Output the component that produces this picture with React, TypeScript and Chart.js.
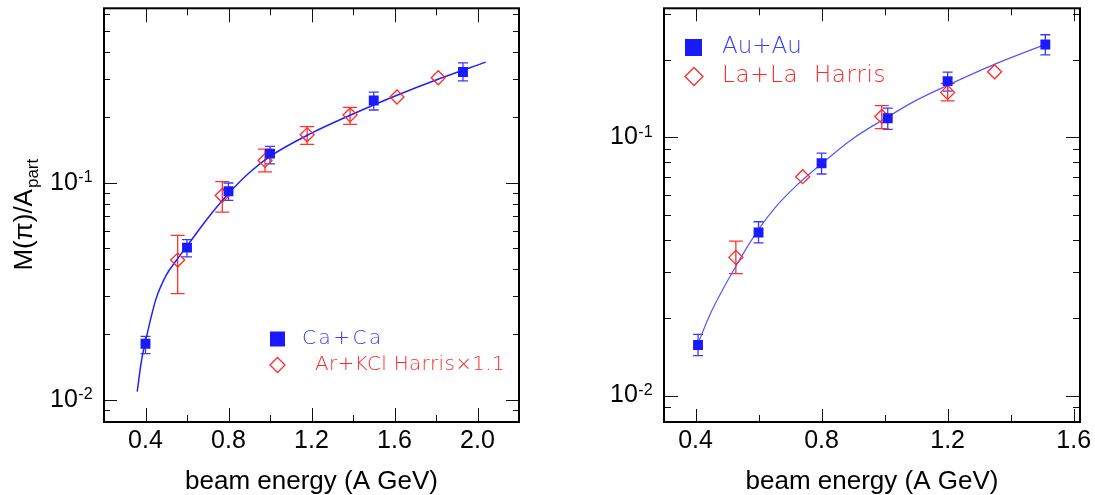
import React, { useEffect, useRef } from "react";
import { Chart, registerables } from "chart.js";

Chart.register(...registerables);

// ===== Left panel: Ca+Ca (squares) and Ar+KCl Harris x1.1 (diamonds) =====
const caCaX = [0.4, 0.6, 0.8, 1.0, 1.5, 1.93];
const caCaY = [0.0181, 0.0502, 0.0912, 0.136, 0.239, 0.323];
const caCaLow = [0.0163, 0.0455, 0.0828, 0.122, 0.216, 0.294];
const caCaHigh = [0.0196, 0.0546, 0.0996, 0.147, 0.261, 0.356];

const arKclX = [0.555, 0.77, 0.976, 1.179, 1.386, 1.612, 1.811];
const arKclY = [0.044, 0.0872, 0.1265, 0.166, 0.205, 0.248, 0.304];
const arKclLow = [0.0308, 0.0731, 0.112, 0.15, 0.1855, null, null];
const arKclHigh = [0.0572, 0.101, 0.1425, 0.181, 0.222, null, null];

const leftFitX = [0.36, 0.38, 0.4, 0.45, 0.5, 0.55, 0.6, 0.7, 0.8, 0.9, 1.0, 1.2, 1.4, 1.6, 1.8, 2.04];
const leftFitY = [0.0109, 0.015, 0.0186, 0.029, 0.0375, 0.044, 0.051, 0.0685, 0.089, 0.111, 0.132, 0.169, 0.207, 0.25, 0.297, 0.359];

// ===== Right panel: Au+Au (squares) and La+La Harris (diamonds) =====
const auAuX = [0.408, 0.6, 0.8, 1.01, 1.2, 1.51];
const auAuY = [0.0157, 0.0428, 0.0794, 0.1186, 0.165, 0.2287];
const auAuLow = [0.01429, 0.039, 0.0721, 0.1074, 0.151, 0.2086];
const auAuHigh = [0.01726, 0.0471, 0.0868, 0.1297, 0.179, 0.2496];

const laLaX = [0.528, 0.74, 0.991, 1.2, 1.349];
const laLaY = [0.0343, 0.0704, 0.1205, 0.1493, 0.1794];
const laLaLow = [0.02965, null, 0.108, 0.1383, null];
const laLaHigh = [0.0396, null, 0.1327, 0.1618, null];

const rightFitX = [0.412, 0.45, 0.53, 0.6, 0.65, 0.72, 0.8, 0.9, 1.0, 1.1, 1.2, 1.35, 1.51];
const rightFitY = [0.0164, 0.0211, 0.032, 0.044, 0.053, 0.065, 0.079, 0.099, 0.118, 0.139, 0.159, 0.192, 0.229];

// ===== Axes / labels =====
const leftXTicks = [0.4, 0.8, 1.2, 1.6, 2.0];
const leftXMinorTicks = [0.2, 0.6, 1.0, 1.4, 1.8, 2.2];
const rightXTicks = [0.4, 0.8, 1.2, 1.6];
const rightXMinorTicks = [0.6, 1.0, 1.4];
const yDecadeTicks = [0.01, 0.1];
const yDecadeExponents = ["-2", "-1"];
const yTickDecades = [0.001, 0.01, 0.1];
const yTickMantissas = [1, 2, 3, 4, 5, 6, 7, 8, 9];
const xTitle = "beam energy (A GeV)";
const yTitleMain = "M(\u03c0)/A";
const yTitleSub = "part";
const leftLegendLabels = ["Ca+Ca", "Ar+KCl Harris\u00d71.1"];
const rightLegendLabels = ["Au+Au", "La+La  Harris"];

const BLUE = "#1a1aff";
const RED = "#ff2a2a";
const SANS = '"Liberation Sans", Arial, Helvetica, sans-serif';
const LEG_FONT = '"DejaVu Sans", sans-serif';

type LegendItem = { kind: "square" | "diamond"; cx: number; cy: number; size: number; text: string; tx: number; fontSize: number; color: string; spacing: number };

type PanelCfg = {
  left: number;
  width: number;
  yAxisWidth: number;
  rightPad: number;
  xMin: number;
  xMax: number;
  yMin: number;
  yMax: number;
  xTicks: number[];
  xMinor: number[];
  sqX: number[]; sqY: number[]; sqLow: (number | null)[]; sqHigh: (number | null)[];
  dmX: number[]; dmY: number[]; dmLow: (number | null)[]; dmHigh: (number | null)[];
  fitX: number[]; fitY: number[];
  fitColor: string;
  fitWidth: number;
  yLabelX: number;
  showYTitle: boolean;
  legend: LegendItem[];
  xMajorLen: number; xMinorLen: number; yMajorLen: number; yMinorLen: number;
};

function makeDecor(cfg: PanelCfg) {
  return {
    id: "decor",
    beforeDatasetsDraw(chart: any) {
      const ctx = chart.ctx as CanvasRenderingContext2D;
      const xs = chart.scales.x;
      const ys = chart.scales.y;
      const bars = [
        { x: cfg.sqX, lo: cfg.sqLow, hi: cfg.sqHigh, color: "#3a3aff", cap: 5 },
        { x: cfg.dmX, lo: cfg.dmLow, hi: cfg.dmHigh, color: "#ff3030", cap: 7 },
      ];
      ctx.save();
      ctx.lineWidth = 1.3;
      for (const b of bars) {
        ctx.strokeStyle = b.color;
        b.x.forEach((xv, i) => {
          const lo = b.lo[i];
          const hi = b.hi[i];
          if (lo == null || hi == null) return;
          const px = xs.getPixelForValue(xv);
          const pl = ys.getPixelForValue(lo);
          const ph = ys.getPixelForValue(hi);
          ctx.beginPath();
          ctx.moveTo(px, pl);
          ctx.lineTo(px, ph);
          ctx.moveTo(px - b.cap, pl);
          ctx.lineTo(px + b.cap, pl);
          ctx.moveTo(px - b.cap, ph);
          ctx.lineTo(px + b.cap, ph);
          ctx.stroke();
        });
      }
      ctx.restore();
    },
    afterDraw(chart: any) {
      const ctx = chart.ctx as CanvasRenderingContext2D;
      const xs = chart.scales.x;
      const ys = chart.scales.y;
      const { left, right, top, bottom } = chart.chartArea;
      ctx.save();
      ctx.strokeStyle = "#111";
      ctx.lineWidth = 1;
      const line = (x1: number, y1: number, x2: number, y2: number) => {
        ctx.beginPath();
        ctx.moveTo(x1, y1);
        ctx.lineTo(x2, y2);
        ctx.stroke();
      };
      // x ticks (inside, bottom and top)
      const xt = (v: number, len: number) => {
        const px = Math.round(xs.getPixelForValue(v)) + 0.5;
        if (px < left - 1 || px > right + 1) return;
        line(px, bottom, px, bottom - len);
        line(px, top, px, top + len);
      };
      cfg.xTicks.forEach((v) => xt(v, cfg.xMajorLen));
      cfg.xMinor.forEach((v) => xt(v, cfg.xMinorLen));
      // y ticks (inside, left and right)
      for (const d of yTickDecades) {
        for (const m of yTickMantissas) {
          const v = m * d;
          if (v < cfg.yMin || v > cfg.yMax) continue;
          const len = m === 1 ? cfg.yMajorLen : cfg.yMinorLen;
          const py = Math.round(ys.getPixelForValue(v)) + 0.5;
          line(left, py, left + len, py);
          line(right, py, right - len, py);
        }
      }
      // frame
      ctx.lineWidth = 2;
      ctx.strokeStyle = "#000";
      ctx.strokeRect(left, top, right - left, bottom - top);

      // y decade labels with superscripts
      ctx.fillStyle = "#000";
      yDecadeTicks.forEach((d, i) => {
        const py = ys.getPixelForValue(d);
        ctx.font = `25px ${SANS}`;
        ctx.textAlign = "left";
        ctx.textBaseline = "middle";
        ctx.fillText("10", cfg.yLabelX, py);
        const w = ctx.measureText("10").width;
        ctx.font = `16px ${SANS}`;
        ctx.textBaseline = "top";
        ctx.fillText(yDecadeExponents[i], cfg.yLabelX + w + 0.5, py - 13);
      });

      // y title with subscript
      if (cfg.showYTitle) {
        ctx.save();
        ctx.translate(32, (top + bottom) / 2);
        ctx.rotate(-Math.PI / 2);
        const mainF = `26px ${SANS}`;
        const subF = `17px ${SANS}`;
        ctx.font = mainF;
        const w1 = ctx.measureText(yTitleMain).width;
        ctx.font = subF;
        const w2 = ctx.measureText(yTitleSub).width;
        const start = -(w1 + w2) / 2;
        ctx.textAlign = "left";
        ctx.textBaseline = "alphabetic";
        ctx.font = mainF;
        ctx.fillText(yTitleMain, start, 0);
        ctx.font = subF;
        ctx.fillText(yTitleSub, start + w1 + 1, 6);
        ctx.restore();
      }

      // legend
      for (const it of cfg.legend) {
        if (it.kind === "square") {
          ctx.fillStyle = BLUE;
          ctx.fillRect(it.cx - it.size / 2, it.cy - it.size / 2, it.size, it.size);
        } else {
          ctx.strokeStyle = RED;
          ctx.lineWidth = 1.3;
          const h = it.size / 2;
          ctx.beginPath();
          ctx.moveTo(it.cx - h, it.cy);
          ctx.lineTo(it.cx, it.cy - h);
          ctx.lineTo(it.cx + h, it.cy);
          ctx.lineTo(it.cx, it.cy + h);
          ctx.closePath();
          ctx.stroke();
        }
        ctx.fillStyle = it.color;
        ctx.font = `200 ${it.fontSize}px ${LEG_FONT}`;
        (ctx as any).letterSpacing = `${it.spacing}px`;
        ctx.textAlign = "left";
        ctx.textBaseline = "middle";
        ctx.fillText(it.text, it.tx, it.cy);
        (ctx as any).letterSpacing = "0px";
      }
      ctx.restore();
    },
  };
}

const leftCfg: PanelCfg = {
  left: 0,
  width: 547,
  yAxisWidth: 104,
  rightPad: 28,
  xMin: 0.2,
  xMax: 2.2,
  yMin: 0.0079,
  yMax: 0.635,
  xTicks: leftXTicks,
  xMinor: leftXMinorTicks,
  sqX: caCaX, sqY: caCaY, sqLow: caCaLow, sqHigh: caCaHigh,
  dmX: arKclX, dmY: arKclY, dmLow: arKclLow, dmHigh: arKclHigh,
  fitX: leftFitX, fitY: leftFitY,
  fitColor: "#2020ff",
  fitWidth: 1.5,
  yLabelX: 50,
  showYTitle: true,
  legend: [
    { kind: "square", cx: 277.5, cy: 339, size: 15, text: leftLegendLabels[0], tx: 302, fontSize: 20, color: "#3c3cff", spacing: 2.5 },
    { kind: "diamond", cx: 277.5, cy: 365, size: 15, text: leftLegendLabels[1], tx: 315, fontSize: 20, color: RED, spacing: 0.3 },
  ],
  xMajorLen: 14, xMinorLen: 7, yMajorLen: 13, yMinorLen: 6,
};

const rightCfg: PanelCfg = {
  left: 547,
  width: 548,
  yAxisWidth: 117,
  rightPad: 15,
  xMin: 0.3,
  xMax: 1.62,
  yMin: 0.0079,
  yMax: 0.316,
  xTicks: rightXTicks,
  xMinor: rightXMinorTicks,
  sqX: auAuX, sqY: auAuY, sqLow: auAuLow, sqHigh: auAuHigh,
  dmX: laLaX, dmY: laLaY, dmLow: laLaLow, dmHigh: laLaHigh,
  fitX: rightFitX, fitY: rightFitY,
  fitColor: "#5555ff",
  fitWidth: 1.2,
  yLabelX: 63,
  showYTitle: false,
  legend: [
    { kind: "square", cx: 146.5, cy: 47.5, size: 17, text: rightLegendLabels[0], tx: 175, fontSize: 23, color: "#3c3cff", spacing: 0 },
    { kind: "diamond", cx: 147, cy: 76.5, size: 18, text: rightLegendLabels[1], tx: 175, fontSize: 23, color: RED, spacing: 0.6 },
  ],
  xMajorLen: 13, xMinorLen: 7, yMajorLen: 14, yMinorLen: 7,
};

function Panel({ cfg }: { cfg: PanelCfg }) {
  const ref = useRef<HTMLCanvasElement>(null);
  useEffect(() => {
    const canvas = ref.current;
    if (!canvas) return;
    const chart = new Chart(canvas, {
      type: "scatter",
      data: {
        datasets: [
          {
            label: "squares",
            data: cfg.sqX.map((x, i) => ({ x, y: cfg.sqY[i] })),
            pointStyle: "rect",
            pointRadius: 7,
            backgroundColor: BLUE,
            borderWidth: 0,
            borderColor: BLUE,
          } as any,
          {
            label: "diamonds",
            data: cfg.dmX.map((x, i) => ({ x, y: cfg.dmY[i] })),
            pointStyle: "rectRot",
            pointRadius: 7,
            backgroundColor: "rgba(0,0,0,0)",
            borderColor: RED,
            borderWidth: 1.3,
          } as any,
          {
            type: "line",
            label: "fit",
            data: cfg.fitX.map((x, i) => ({ x, y: cfg.fitY[i] })),
            showLine: true,
            borderColor: cfg.fitColor,
            borderWidth: cfg.fitWidth,
            pointRadius: 0,
            cubicInterpolationMode: "monotone",
            fill: false,
          } as any,
        ],
      },
      options: {
        animation: false,
        responsive: false,
        maintainAspectRatio: false,
        devicePixelRatio: 1,
        layout: { padding: { left: 0, right: cfg.rightPad, top: 6, bottom: 0 } },
        plugins: { legend: { display: false }, tooltip: { enabled: false } },
        events: [],
        scales: {
          x: {
            type: "linear",
            min: cfg.xMin,
            max: cfg.xMax,
            grid: { display: false },
            border: { display: false },
            afterBuildTicks: (s: any) => {
              s.ticks = cfg.xTicks.map((v) => ({ value: v }));
            },
            afterFit: (s: any) => {
              s.height = 73;
              s.paddingLeft = 0;
              s.paddingRight = 0;
            },
            ticks: {
              autoSkip: false,
              maxRotation: 0,
              padding: -4,
              color: "#000",
              font: { family: SANS, size: 25, lineHeight: 1.2 },
              callback: (v: any) => Number(v).toFixed(1),
            },
            title: {
              display: true,
              text: xTitle,
              color: "#000",
              font: { family: SANS, size: 26, lineHeight: 1.0 },
              padding: { top: 0, bottom: 0 },
            },
          },
          y: {
            type: "logarithmic",
            min: cfg.yMin,
            max: cfg.yMax,
            grid: { display: false },
            border: { display: false },
            ticks: { display: false },
            afterBuildTicks: (s: any) => {
              s.ticks = yDecadeTicks.map((v) => ({ value: v }));
            },
            afterFit: (s: any) => {
              s.width = cfg.yAxisWidth;
            },
          },
        },
      } as any,
      plugins: [makeDecor(cfg)],
    });
    return () => chart.destroy();
  }, []);
  return (
    <div style={{ position: "absolute", left: cfg.left, top: 0, width: cfg.width, height: 495, background: "#fff" }}>
      <canvas ref={ref} width={cfg.width} height={495} style={{ display: "block" }} />
    </div>
  );
}

export default function App() {
  return (
    <div style={{ position: "absolute", left: 0, top: 0, width: 1095, height: 495, background: "#fff" }}>
      <Panel cfg={leftCfg} />
      <Panel cfg={rightCfg} />
    </div>
  );
}
